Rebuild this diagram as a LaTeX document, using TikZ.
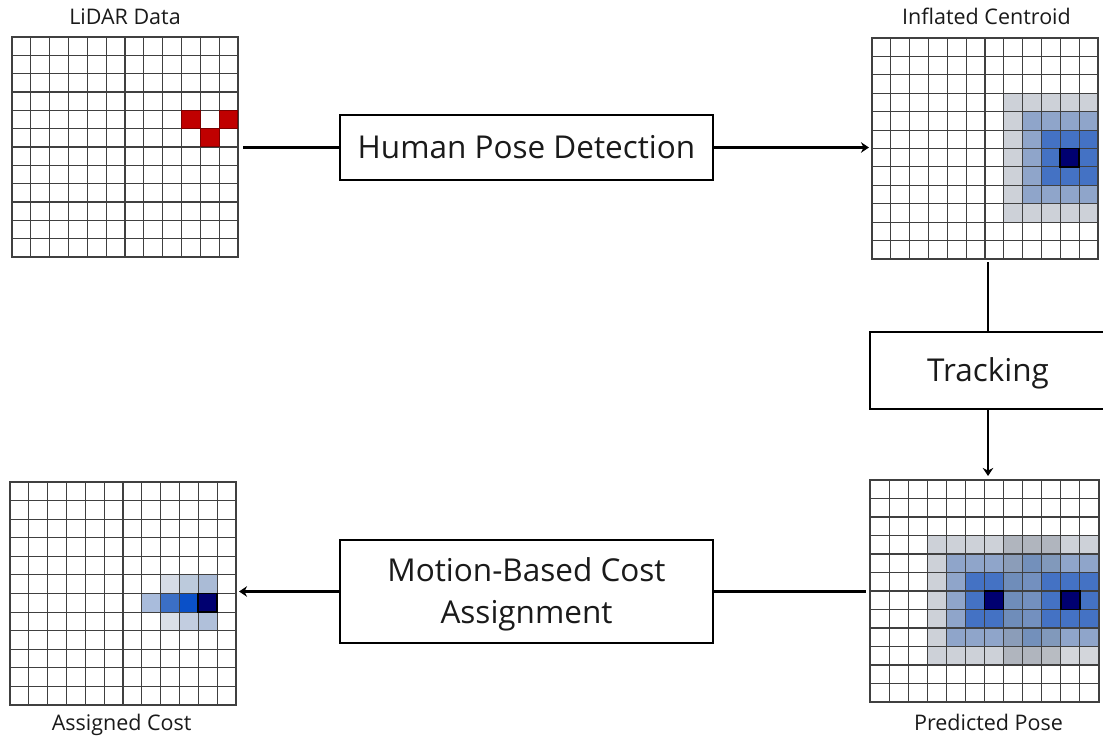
\documentclass[tikz,border=0pt]{standalone}
\usepackage{fontspec}
\setmainfont{Open Sans}
\usetikzlibrary{arrows.meta}

\definecolor{ink}{HTML}{1A1A1A}
\definecolor{gridcol}{HTML}{404040}
\definecolor{hitred}{HTML}{C00000}
\definecolor{hitedge}{HTML}{7A0000}
\definecolor{ringgray}{HTML}{CDD1D8}
\definecolor{ringmed}{HTML}{8FA5CA}
\definecolor{ringblue}{HTML}{4472C4}
\definecolor{core}{HTML}{000070}
% blends where two inflated poses overlap
\definecolor{mixgray}{HTML}{B0B5BE}
\definecolor{mixgrayb}{HTML}{B8BCC2}
\definecolor{fadegray}{HTML}{D3D6DB}
\definecolor{mixmedA}{HTML}{8B9DB9}
\definecolor{mixmedB}{HTML}{7390BB}
\definecolor{mixmedC}{HTML}{8199BB}
\definecolor{mixblueA}{HTML}{6F8DBA}
\definecolor{mixblueB}{HTML}{7390BF}
% assigned cost shades
\definecolor{acA}{HTML}{D6DCE6}
\definecolor{acB}{HTML}{BCCADC}
\definecolor{acC}{HTML}{AABBD6}
\definecolor{acD}{HTML}{A9BCDC}
\definecolor{acE}{HTML}{3B6FC6}
\definecolor{acF}{HTML}{0A50C8}
\definecolor{acG}{HTML}{DBE0E8}
\definecolor{acH}{HTML}{C2CDE0}
\definecolor{acI}{HTML}{B0C0DA}

\tikzset{
  gridline/.style={draw=gridcol, line width=1.1pt, line cap=rect},
  gridframe/.style={inner sep=0pt, outer sep=0pt, draw=none},
  caption/.style={font=\fontsize{21.5}{26}\selectfont, text=ink, anchor=base, inner sep=0pt},
  stagebox/.style={draw=black, line width=2.5pt, fill=white,
    font=\fontsize{31.5}{42}\selectfont, text=ink, inner sep=0pt,
    text height=22.5pt, text depth=0pt},
  conn/.style={draw=black, line width=2.3pt},
  arrowconn/.style={conn, -{Stealth[length=8pt,width=10.5pt,inset=2.5pt]}},
  corecell/.style={fill=core, draw=black, line width=1.8pt},
  hitcell/.style={fill=hitred, draw=hitedge, line width=1pt},
}

% 12 x 12 cell lattice in the current (cell-unit) coordinate system
\newcommand\cellgrid{%
  \foreach \gi in {0,1,2,3,4,5,6,7,8,9,10,11,12}{\draw[gridline] (\gi,0) -- (\gi,12);}%
  \foreach \gj in {0,1,2,3,4,5,6,7,8,9,10,11,12}{\draw[gridline] (0,\gj) -- (12,\gj);}%
}
\newcommand\paint[3]{\fill[#1] (#2,#3) rectangle ++(1,1);}

\begin{document}
\begin{tikzpicture}[x=1pt,y=-1pt]
\clip (0,0) rectangle (1103,739);
\fill[white] (0,0) rectangle (1103,739);

% ---------- LiDAR grid ----------
\node[gridframe, minimum width=226pt, minimum height=220pt] (lidar) at (125,147) {};
\node[caption] (lidarcap) at (125,24) {LiDAR Data};
\begin{scope}[shift={(12,37)}, x=18.83pt, y=-18.33pt]
  \cellgrid
  \draw[hitcell] (9,4) rectangle ++(1,1);
  \draw[hitcell] (11,4) rectangle ++(1,1);
  \draw[hitcell] (10,5) rectangle ++(1,1);
\end{scope}

% ---------- Inflated centroid grid ----------
\node[gridframe, minimum width=226pt, minimum height=221pt] (centroid) at (985,148.5) {};
\node[caption] (centroidcap) at (986.5,24) {Inflated Centroid};
\begin{scope}[shift={(872,38)}, x=18.83pt, y=-18.42pt]
  \fill[ringgray] (7,3) rectangle (12,10);
  \fill[ringmed]  (8,4) rectangle (12,9);
  \fill[ringblue] (9,5) rectangle (12,8);
  \cellgrid
  \draw[corecell] (10,6) rectangle ++(1,1);
\end{scope}

% ---------- Predicted pose grid ----------
\node[gridframe, minimum width=229pt, minimum height=222pt] (pred) at (984.5,591) {};
\node[caption] (predcap) at (988.5,730) {Predicted Pose};
\begin{scope}[shift={(870,480)}, x=19.08pt, y=-18.5pt]
  \fill[ringgray] (3,3) rectangle (12,10);
  \paint{mixgray}{7}{3}\paint{mixgray}{8}{3}\paint{mixgray}{9}{3}
  \paint{mixgray}{7}{9}\paint{mixgray}{8}{9}\paint{mixgrayb}{9}{9}
  \paint{fadegray}{10}{9}\paint{fadegray}{11}{9}
  \fill[ringmed] (4,4) rectangle (12,9);
  \fill[ringblue] (5,5) rectangle (7,8);
  \fill[ringblue] (9,5) rectangle (12,8);
  \paint{mixmedA}{7}{4}\paint{mixmedB}{8}{4}\paint{mixmedC}{9}{4}
  \paint{mixmedA}{7}{8}\paint{mixmedB}{8}{8}\paint{mixmedC}{9}{8}
  \paint{mixblueA}{7}{5}\paint{mixblueB}{8}{5}
  \paint{mixblueA}{7}{6}\paint{mixblueB}{8}{6}
  \paint{mixblueA}{7}{7}\paint{mixblueB}{8}{7}
  \cellgrid
  \draw[corecell] (6,6) rectangle ++(1,1);
  \draw[corecell] (10,6) rectangle ++(1,1);
\end{scope}

% ---------- Assigned cost grid ----------
\node[gridframe, minimum width=226pt, minimum height=223pt] (assigned) at (123,593.5) {};
\node[caption] (assignedcap) at (121.7,730) {Assigned Cost};
\begin{scope}[shift={(10,482)}, x=18.83pt, y=-18.58pt]
  \paint{acA}{8}{5}\paint{acB}{9}{5}\paint{acC}{10}{5}
  \paint{acD}{7}{6}\paint{acE}{8}{6}\paint{acF}{9}{6}
  \paint{acG}{8}{7}\paint{acH}{9}{7}\paint{acI}{10}{7}
  \cellgrid
  \draw[corecell] (10,6) rectangle ++(1,1);
\end{scope}

% ---------- processing stages ----------
\node[stagebox, minimum width=373pt, minimum height=65pt] (hpd) at (526.5,147.5) {Human Pose Detection};
\node[stagebox, minimum width=236pt, minimum height=77pt] (track) at (988,370.5) {Tracking};
\node[stagebox, minimum width=373pt, minimum height=103pt, align=center, text height=64.5pt] (mbca) at (526.5,591.5) {Motion-Based Cost\\Assignment};

% ---------- connectors ----------
\draw[conn, shorten >=5pt] (hpd.west) -- (hpd.west -| lidar.east);
\draw[arrowconn, shorten >=3pt] (hpd.east) -- (hpd.east -| centroid.west);
\draw[conn, shorten >=3pt] (track.north) -- (track.north |- centroid.south);
\draw[arrowconn, shorten >=4pt] (track.south) -- (track.south |- pred.north);
\draw[conn, shorten >=4pt] (mbca.east) -- (mbca.east -| pred.west);
\draw[arrowconn, shorten >=3pt] (mbca.west) -- (mbca.west -| assigned.east);
\end{tikzpicture}
\end{document}
